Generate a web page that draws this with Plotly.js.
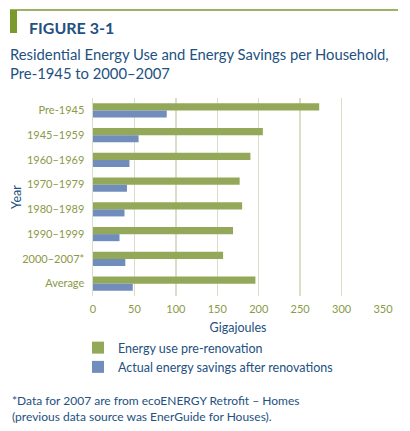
<!DOCTYPE html>
<html>
<head>
<meta charset="utf-8">
<script src="https://cdn.plot.ly/plotly-3.0.1.min.js"></script>
<style>
html,body{margin:0;padding:0;background:#fff;}
#chart{width:410px;height:431px;}
</style>
</head>
<body>
<div id="chart"></div>
<script>
const categories = ["Pre-1945", "1945–1959", "1960–1969", "1970–1979", "1980–1989", "1990–1999", "2000–2007*", "Average"];
const energyUse = [273, 205, 190, 177, 180, 169, 157, 196];
const energySavings = [89, 55, 44, 41, 38, 32, 39, 48];
const seriesNames = ["Energy use pre-renovation", "Actual energy savings after renovations"];
const xTicks = [0, 50, 100, 150, 200, 250, 300, 350];

const FONT = "Lato, 'Open Sans', sans-serif";
const BLUE_TXT = "#23517f";
const OLIVE_TXT = "#8a9a47";

const traces = [
  {type: "bar", orientation: "h", name: seriesNames[0], y: categories, x: energyUse,
   marker: {color: "#94a85a"}, hoverinfo: "x"},
  {type: "bar", orientation: "h", name: seriesNames[1], y: categories, x: energySavings,
   marker: {color: "#708dbb"}, hoverinfo: "x"}
];

const layout = {
  width: 410, height: 431,
  margin: {l: 93, r: 27, t: 98, b: 135},
  paper_bgcolor: "#ffffff", plot_bgcolor: "#ffffff",
  font: {family: FONT, size: 11, color: OLIVE_TXT},
  barmode: "group", bargap: 0.43, bargroupgap: 0,
  title: {
    text: "Residential Energy Use and Energy Savings per Household,<br>Pre-1945 to 2000–2007",
    x: 10/410, xanchor: "left", xref: "container",
    y: 1 - 60/431, yanchor: "top", yref: "container",
    font: {family: FONT, size: 14.8, color: BLUE_TXT}
  },
  xaxis: {
    range: [0, 350], tickvals: xTicks, ticktext: xTicks.map(String),
    showgrid: true, gridcolor: "#d9dfc6", gridwidth: 1.5,
    zeroline: false, showline: false, ticks: "", ticklabelstandoff: 5,
    tickfont: {family: FONT, size: 11, color: OLIVE_TXT},
    title: {text: "Gigajoules", font: {family: FONT, size: 12.5, color: BLUE_TXT}, standoff: 9},
    fixedrange: true
  },
  yaxis: {
    type: "category", autorange: "reversed",
    showgrid: false, zeroline: false, showline: true, linecolor: "#d9dfc6", linewidth: 1.5,
    ticks: "", ticklabelstandoff: 5,
    tickfont: {family: FONT, size: 11, color: OLIVE_TXT},
    title: {text: ""},
    fixedrange: true
  },
  showlegend: true,
  legend: {
    orientation: "v", x: -15/290, xanchor: "left", y: -37/198, yanchor: "top",
    font: {family: FONT, size: 12.5, color: BLUE_TXT},
    bgcolor: "rgba(0,0,0,0)", traceorder: "normal", itemclick: false, itemdoubleclick: false
  },
  shapes: [
    {type: "line", xref: "paper", yref: "paper", x0: -83/290, x1: 305/290, y0: 1 + 88/198, y1: 1 + 88/198,
     line: {color: "#7a9a2e", width: 1.5}},
    {type: "rect", xref: "paper", yref: "paper", x0: -83/290, x1: -76/290, y0: 1 + 65/198, y1: 1 + 88/198,
     fillcolor: "#7a9a2e", line: {width: 0}}
  ],
  annotations: [
    {text: "<b>FIGURE 3-1</b>", xref: "paper", yref: "paper", x: -66/290, y: 1 + 70/198,
     xanchor: "left", yanchor: "middle", showarrow: false,
     font: {family: FONT, size: 16, color: BLUE_TXT}},
    {text: "Year", xref: "paper", yref: "paper", x: -77/290, y: 0.5, textangle: -90,
     xanchor: "center", yanchor: "middle", showarrow: false,
     font: {family: FONT, size: 12.5, color: BLUE_TXT}},
    {text: "*Data for 2007 are from ecoENERGY Retrofit – Homes<br>(previous data source was EnerGuide for Houses).",
     xref: "paper", yref: "paper", x: -83/290, y: -95/198, xanchor: "left", yanchor: "top", align: "left",
     showarrow: false, font: {family: FONT, size: 12, color: BLUE_TXT}}
  ]
};

Plotly.newPlot("chart", traces, layout, {displayModeBar: false, staticPlot: true});
</script>
</body>
</html>
